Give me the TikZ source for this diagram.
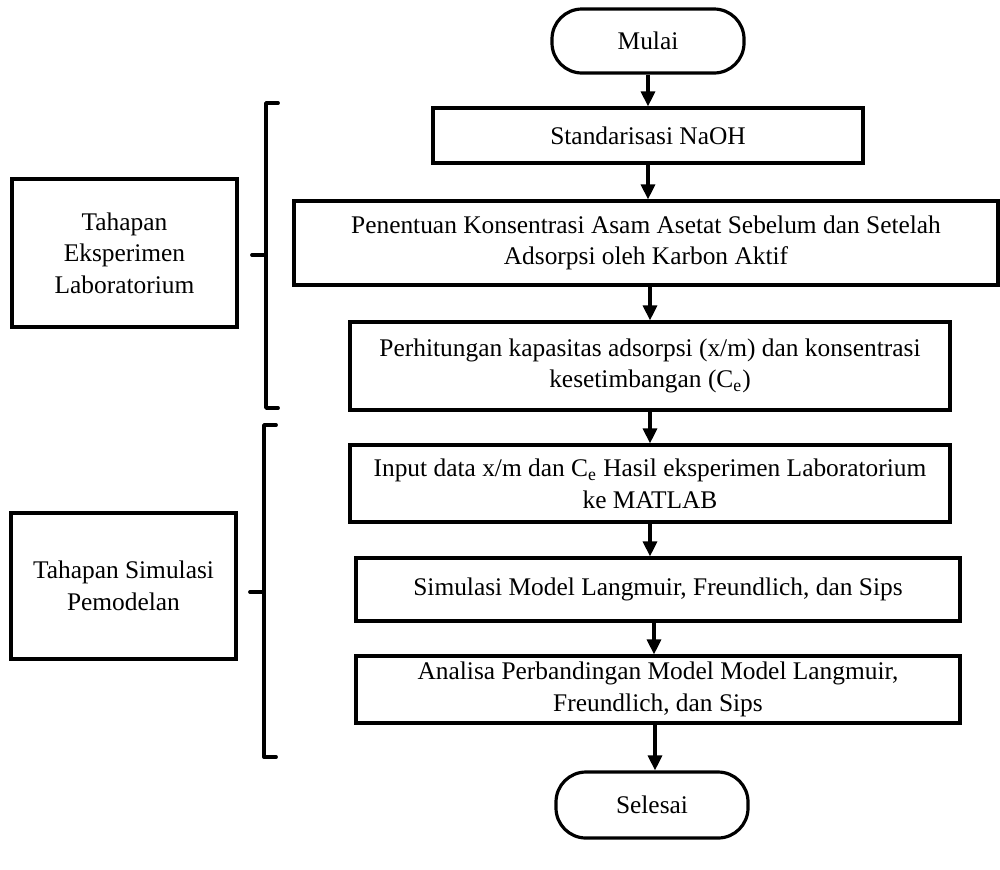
\documentclass[tikz,border=0pt]{standalone}
\usepackage{fontspec}
\setmainfont{Liberation Serif}
\usetikzlibrary{arrows.meta}
\begin{document}
\begin{tikzpicture}[x=0.5pt,y=-0.5pt,
  box/.style={draw, line width=1.6pt, rectangle, align=center, inner sep=0pt,
    font=\fontsize{12.7pt}{15.8pt}\selectfont},
  term/.style={box, rounded corners=15pt},
  flow/.style={line width=1.6pt, -{Triangle[width=7pt,length=7.5pt]}},
  brk/.style={line width=1.9pt, line cap=round, line join=round}]
\useasboundingbox (0,0) rectangle (1000,869);
% flow column
\node[term, minimum width=96pt, minimum height=32pt] (mulai) at (648,41) {Mulai};
\node[box, minimum width=215pt, minimum height=27.5pt] (std) at (648,135.5) {Standarisasi NaOH};
\node[box, minimum width=352pt, minimum height=42pt] (pen) at (646,243)
  {Penentuan Konsentrasi Asam Asetat Sebelum dan Setelah\\Adsorpsi oleh Karbon Aktif};
\node[box, minimum width=300pt, minimum height=44pt] (per) at (650,366)
  {Perhitungan kapasitas adsorpsi (x/m) dan konsentrasi\\kesetimbangan (C\textsubscript{e})};
\node[box, minimum width=300pt, minimum height=38.5pt] (inp) at (650,483.5)
  {Input data x/m dan C\textsubscript{e} Hasil eksperimen Laboratorium\\ke MATLAB};
\node[box, minimum width=302pt, minimum height=31.5pt] (sim) at (658,589.5)
  {Simulasi Model Langmuir, Freundlich, dan Sips};
\node[box, minimum width=302pt, minimum height=33.5pt] (ana) at (658,689.5)
  {Analisa Perbandingan Model Model Langmuir,\\Freundlich, dan Sips};
\node[term, minimum width=96pt, minimum height=33pt] (sel) at (652,805) {Selesai};
% arrows
\draw[flow] (mulai.south) -- (mulai.south |- std.north);
\draw[flow] (std.south) -- (std.south |- pen.north);
\draw[flow] ([xshift=1pt]std.south |- pen.south) -- ([xshift=1pt]std.south |- per.north);
\draw[flow] ([xshift=1pt]std.south |- per.south) -- ([xshift=1pt]std.south |- inp.north);
\draw[flow] ([xshift=1pt]std.south |- inp.south) -- ([xshift=1pt]std.south |- sim.north);
\draw[flow] ([xshift=1pt]sel.north |- sim.south) -- ([xshift=1pt]sel.north |- ana.north);
\draw[flow] ([xshift=1.5pt]sel.north |- ana.south) -- ([xshift=1.5pt]sel.north);
% left labels
\node[box, minimum width=112.5pt, minimum height=74pt] (lab) at (124.5,253)
  {Tahapan\\Eksperimen\\Laboratorium};
\node[box, minimum width=112.5pt, minimum height=73pt] (simlab) at (123.5,586)
  {Tahapan Simulasi\\Pemodelan};
% brackets
\coordinate (b1t) at (266,103);
\coordinate (b1b) at (266,408);
\coordinate (b1m) at (266,255);
\draw[brk] ([xshift=6pt]b1t) -- (b1t) -- (b1b) -- ([xshift=6pt]b1b);
\draw[brk] (b1m) -- ([xshift=-7pt]b1m);
\coordinate (b2t) at (264,425);
\coordinate (b2b) at (264,757);
\coordinate (b2m) at (264,592);
\draw[brk] ([xshift=6pt]b2t) -- (b2t) -- (b2b) -- ([xshift=6pt]b2b);
\draw[brk] (b2m) -- ([xshift=-7pt]b2m);
\end{tikzpicture}
\end{document}
